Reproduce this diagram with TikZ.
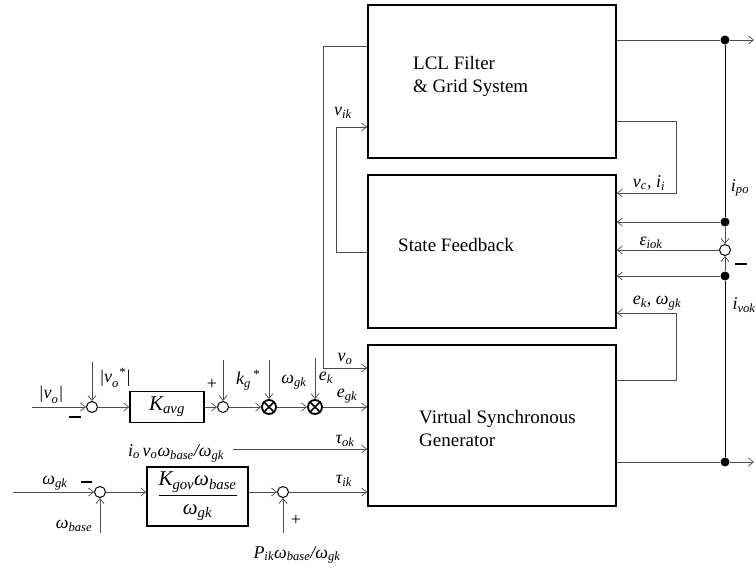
\documentclass[tikz,border=0pt]{standalone}
\usepackage{amsmath}
\usepackage{fontspec}
\setmainfont{Liberation Serif}
\usetikzlibrary{arrows.meta}
\newcommand{\ti}[1]{\textit{#1}}
\begin{document}
\begin{tikzpicture}[x=1pt,y=-1pt,
  blk/.style={draw=black, line width=1.6pt, minimum width=248pt, inner sep=0pt},
  smallblk/.style={draw=black, line width=1.4pt, inner sep=0pt},
  conn/.style={draw=black!70, line width=0.7pt},
  arr/.style={conn, -{Straight Barb[length=5pt,width=8pt]}},
  sumc/.style={circle, draw=black, line width=1pt, minimum size=11pt, inner sep=0pt},
  mulc/.style={circle, draw=black, line width=1.8pt, minimum size=14pt, inner sep=0pt},
  dot/.style={circle, fill=black, minimum size=9pt, inner sep=0pt},
  lab/.style={font=\fontsize{18}{20}\selectfont, inner sep=0pt},
  btxt/.style={font=\fontsize{19}{23}\selectfont, align=left, inner sep=0pt, anchor=west},
  minus/.style={line width=2pt, draw=black}
]
\useasboundingbox (0,0) rectangle (756,568);

% main blocks
\node[blk, minimum height=153pt] (lcl) at (492,81.5) {};
\node[blk, minimum height=153pt] (sf) at (492,251.5) {};
\node[blk, minimum height=161pt] (vsg) at (492,425.5) {};
\node[btxt] (t1) at (413,76.5) {LCL Filter\\\& Grid System};
\node[btxt] (t2) at (398,245) {State Feedback};
\node[btxt] (t3) at (419,428.5) {Virtual Synchronous\\Generator};

% right side junctions
\node[dot] (d1) at (725,40) {};
\node[dot] (d2) at (725,222) {};
\node[sumc] (sc) at (725,250) {};
\node[dot] (d3) at (725,276) {};
\node[dot] (d4) at (725,462) {};
\coordinate (e1) at (754,40);
\coordinate (e2) at (754,462);

\draw[conn] (lcl.east |- d1) -- (d1);
\draw[arr] (d1) -- (e1);
\draw[conn,draw=black] (d1) -- (d2);
\draw[arr] (d2) -- (sc);
\draw[arr] (d2) -- (sf.east |- d2);
\draw[arr] (sc) -- (sf.east |- sc);
\draw[arr] (d3) -- (sc);
\draw[arr] (d3) -- (sf.east |- d3);
\draw[conn,draw=black] (d4) -- (d3);
\draw[conn] (vsg.east |- d4) -- (d4);
\draw[arr] (d4) -- (e2);

% feedback loops
\coordinate (r1) at (676,121); \coordinate (r2) at (676,193);
\draw[arr] (lcl.east |- r1) -- (r1) -- (r2) -- (sf.east |- r2);
\coordinate (r3) at (676,380); \coordinate (r4) at (676,313);
\draw[arr] (vsg.east |- r3) -- (r3) -- (r4) -- (sf.east |- r4);
\coordinate (l1) at (323,46); \coordinate (l2) at (323,368);
\draw[arr] (lcl.west |- l1) -- (l1) -- (l2) -- (vsg.west |- l2);
\coordinate (l3) at (336,252); \coordinate (l4) at (336,127);
\draw[arr] (sf.west |- l3) -- (l3) -- (l4) -- (lcl.west |- l4);

% right labels
\node[lab] at (649,183) {$\ti{v}_{\ti{c}}\ti{, i}_{\ti{i}}$};
\node[lab] at (740,188) {$\ti{i}_{\ti{po}}$};
\node[lab] at (651,243) {$\ti{ε}_{\ti{iok}}$};
\draw[minus] (735,264) -- (747,264);
\node[lab] at (657,303) {$\ti{e}_{\ti{k}}\ti{,\ ω}_{\ti{gk}}$};
\node[lab] at (744,305) {$\ti{i}_{\ti{vok}}$};
\node[lab] at (343,113) {$\ti{v}_{\ti{ik}}$};
\node[lab] at (345,359) {$\ti{v}_{\ti{o}}$};

% upper left row
\coordinate (in1) at (32,407);
\node[sumc] (s1) at (92,407) {};
\coordinate (u1) at (92,362);
\node[smallblk, minimum width=74pt, minimum height=31pt] (kavg) at (167,407) {\fontsize{21}{23}\selectfont$\ti{K}_{\ti{avg}}$};
\node[sumc] (s2) at (223,407) {};
\coordinate (u2) at (223,360);
\node[mulc] (m1) at (269,407) {};
\coordinate (u3) at (269,360);
\node[mulc] (m2) at (315,407) {};
\coordinate (u4) at (315,358);
\draw[line width=1.5pt] (m1.north west) -- (m1.south east) (m1.north east) -- (m1.south west);
\draw[line width=1.5pt] (m2.north west) -- (m2.south east) (m2.north east) -- (m2.south west);

\draw[arr] (in1) -- (s1);
\draw[arr] (u1) -- (s1);
\draw[arr] (s1) -- (kavg);
\draw[arr] (kavg) -- (s2);
\draw[arr] (u2) -- (s2);
\draw[arr] (s2) -- (m1);
\draw[arr] (u3) -- (m1);
\draw[arr] (m1) -- (m2);
\draw[arr] (u4) -- (m2);
\draw[arr] (m2) -- (vsg.west |- m2);

\node[lab] at (51,395) {$\ti{|v}_{\ti{o}}\ti{|}$};
\draw[minus] (69,417) -- (81,417);
\node[lab] at (115,378) {$\ti{|v}_{\ti{o}}{}^{\ti{*}}\ti{|}$};
\node[lab] at (212,384) {+};
\node[lab] at (248,380) {$\ti{k}_{\ti{g}}{}^{\,\ti{*}}$};
\node[lab] at (294,382) {$\ti{ω}_{\ti{gk}}$};
\node[lab] at (326,378) {$\ti{e}_{\ti{k}}$};
\node[lab] at (347,396) {$\ti{e}_{\ti{gk}}$};

% tau_ok
\coordinate (tok) at (233,449);
\draw[arr] (tok) -- (vsg.west |- tok);
\node[lab] at (176,453) {$\ti{i}_{\ti{o}}\,\ti{v}_{\ti{o}}\ti{ω}_{\ti{base}}\ti{/ω}_{\ti{gk}}$};
\node[lab] at (345,441) {$\ti{τ}_{\ti{ok}}$};

% bottom row
\coordinate (in2) at (13,492);
\node[sumc] (s3) at (100,492) {};
\coordinate (b1) at (100,533);
\node[smallblk, minimum width=101pt, minimum height=59pt] (kgov) at (197.5,496.5)
  {\fontsize{21}{23}\selectfont$\dfrac{\ti{K}_{\ti{gov}}\ti{ω}_{\ti{base}}}{\ti{ω}_{\ti{gk}}}$};
\node[sumc] (s4) at (283,492) {};
\coordinate (b2) at (283,533);

\draw[arr] (in2) -- (s3);
\draw[arr] (b1) -- (s3);
\draw[arr] (s3) -- (kgov.west |- s3);
\draw[arr] (kgov.east |- s4) -- (s4);
\draw[arr] (b2) -- (s4);
\draw[arr] (s4) -- (vsg.west |- s4);

\node[lab] at (55,483) {$\ti{ω}_{\ti{gk}}$};
\draw[minus] (81,482) -- (92,482);
\node[lab] at (74,526) {$\ti{ω}_{\ti{base}}$};
\node[lab] at (296,520) {+};
\node[lab] at (297,555) {$\ti{P}_{\ti{ik}}\ti{ω}_{\ti{base}}\ti{/ω}_{\ti{gk}}$};
\node[lab] at (344,481) {$\ti{τ}_{\ti{ik}}$};
\end{tikzpicture}
\end{document}
